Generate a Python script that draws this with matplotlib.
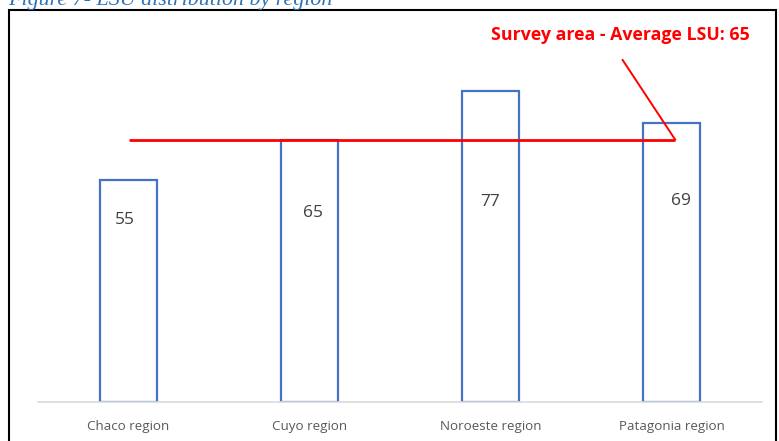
import numpy as np
import matplotlib.pyplot as plt
from matplotlib.patches import Rectangle

# data
regions = ['Chaco region', 'Cuyo region', 'Noroeste region', 'Patagonia region']
lsu = [55, 65, 77, 69]
survey_avg = 65

# where the value labels sit (data units) inside each bar
label_y = [45, 46.8, 49.5, 49.8]
label_dx = [-0.02, 0.02, 0.0, 0.05]

blue = '#4472C4'
red = '#FF0000'
grey_text = '#404040'


def main():
    fig = plt.figure(figsize=(7.79, 4.41), dpi=100)
    W, H = 779.0, 441.0

    # frame around the chart
    fig.patches.append(Rectangle((9 / W, -0.05), (776 - 9) / W, 1.05 - 10.5 / H,
                                 transform=fig.transFigure, fill=False,
                                 edgecolor='black', linewidth=1.5))

    # caption, cut off by the top of the image
    fig.text(8 / W, 1 - 4.5 / H, 'Figure 7- LSU distribution by region',
             family='Liberation Serif', style='italic', color='#2E74B5',
             fontsize=15.8, ha='left', va='baseline')

    ax = fig.add_axes([38 / W, (H - 402) / H, 724 / W, (402 - 20) / H])
    x = np.arange(len(regions))
    ax.bar(x, lsu, width=0.31, facecolor='white', edgecolor=blue, linewidth=1.6)

    for xi, yi, dx, v in zip(x, label_y, label_dx, lsu):
        ax.text(xi + dx, yi, str(v), ha='center', va='center', fontsize=12.5,
                family='Open Sans', color=grey_text)

    # survey average line
    ax.plot([0, 3.02], [survey_avg, survey_avg], color=red, linewidth=2.0,
            solid_capstyle='butt')
    ax.plot([2.73, 3.02], [84.7, survey_avg], color=red, linewidth=1.4)
    ax.text(2.72, 91, 'Survey area - Average LSU: %d' % survey_avg, color=red,
            fontsize=12.8, fontweight='bold', family='Open Sans',
            ha='center', va='center')

    ax.set_xlim(-0.5, 3.5)
    ax.set_ylim(0, 94.6)
    ax.set_xticks(x)
    ax.set_xticklabels(regions, fontsize=9.6, family='Open Sans', color='#595959')
    ax.tick_params(axis='x', length=0, pad=13)
    ax.set_yticks([])
    for s in ['top', 'right', 'left']:
        ax.spines[s].set_visible(False)
    ax.spines['bottom'].set_color('#d9d9d9')
    ax.spines['bottom'].set_linewidth(1.2)

    fig.savefig('out.png', dpi=100)


if __name__ == '__main__':
    main()
